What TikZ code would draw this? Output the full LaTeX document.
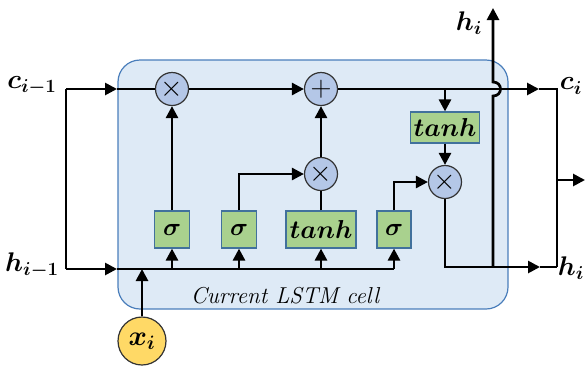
\documentclass[tikz,border=0pt]{standalone}
\usepackage{amsmath,bm}
\usetikzlibrary{arrows.meta}
\definecolor{cellfill}{HTML}{DEEAF6}
\definecolor{celldraw}{HTML}{4A7EBB}
\definecolor{opfill}{HTML}{B4C7E7}
\definecolor{gatefill}{HTML}{A9D18E}
\definecolor{gatedraw}{HTML}{41719C}
\definecolor{xfill}{HTML}{FFD966}
\newcommand\lstmsym[2]{\scalebox{#1}{\fontsize{20.74}{24}\selectfont$#2$}}
\tikzset{
  wire/.style={line width=2.7pt, black},
  arr/.style={wire, -{Triangle[length=12pt,width=12pt]}},
  opnode/.style={circle, draw=black!80, line width=1.2pt, fill=opfill, minimum size=33pt, inner sep=0pt},
  gate/.style={rectangle, draw=gatedraw, line width=1.2pt, fill=gatefill, minimum height=37pt, inner sep=0pt},
  lbl/.style={inner sep=0pt},
}
\begin{document}
\begin{tikzpicture}[x=1pt,y=-1pt]
\useasboundingbox (0,0) rectangle (586,365);
% cell
\draw[draw=celldraw, fill=cellfill, line width=1.2pt, rounded corners=22pt] (118,60) rectangle (508,309);
\node[inner sep=0pt, font=\fontsize{23}{24}\selectfont\itshape] (celllbl) at (285,296) {Current LSTM cell};
% operators
\node[opnode] (mul1) at (172,89) {\lstmsym{1.4}{\times}};
\node[opnode] (add) at (321,89) {\lstmsym{1.4}{+}};
\node[opnode] (mul2) at (321,174) {\lstmsym{1.4}{\times}};
\node[opnode] (mul3) at (445,182) {\lstmsym{1.4}{\times}};
% gates
\node[gate, minimum width=35pt] (sig1) at (172,229.5) {\lstmsym{1.2}{\bm{\sigma}}};
\node[gate, minimum width=35pt] (sig2) at (239,229.5) {\lstmsym{1.2}{\bm{\sigma}}};
\node[gate, minimum width=70pt] (tanh1) at (321,229.5) {\lstmsym{1.25}{\bm{tanh}}};
\node[gate, minimum width=34pt] (sig3) at (394,229.5) {\lstmsym{1.2}{\bm{\sigma}}};
\node[gate, minimum width=69pt, minimum height=31pt] (tanh2) at (445,127.5) {\lstmsym{1.25}{\bm{tanh}}};
% input
\node[circle, draw=black!80, line width=1.2pt, fill=xfill, minimum size=48pt, inner sep=0pt] (xi) at (142,341) {\lstmsym{1.35}{\bm{x_i}}};
% labels
\node[lbl] (cprev) at (32,86) {\lstmsym{1.3}{\bm{c_{i-1}}}};
\node[lbl] (hprev) at (32,265) {\lstmsym{1.3}{\bm{h_{i-1}}}};
\node[lbl] (cnext) at (571,86) {\lstmsym{1.3}{\bm{c_{i}}}};
\node[lbl] (hnext) at (571,268) {\lstmsym{1.3}{\bm{h_{i}}}};
\node[lbl] (htop) at (469,23) {\lstmsym{1.3}{\bm{h_{i}}}};
% coordinates
\coordinate (lc) at (66,89);
\coordinate (lh) at (66,269);
\coordinate (cm) at (117,89);
\coordinate (hm) at (117,269);
\coordinate (h1) at (172,269);
\coordinate (h2) at (239,269);
\coordinate (h3) at (321,269);
\coordinate (h4) at (394,269);
\coordinate (hx) at (142,269);
\coordinate (s2b) at (239,174);
\coordinate (s3b) at (394,182);
\coordinate (cbr) at (445,89);
\coordinate (carr) at (539,89);
\coordinate (rc) at (557,89);
\coordinate (rh) at (557,267);
\coordinate (rm) at (557,180);
\coordinate (rout) at (585,180);
\coordinate (m3d) at (445,267);
\coordinate (harr) at (540,267);
\coordinate (hv) at (493,267);
\coordinate (hop1) at (493,96);
\coordinate (hop2) at (493,82);
\coordinate (htip) at (493,8);
% wires
\draw[wire] (lh) -- (lc);
\draw[arr] (lc) -- (cm);
\draw[wire] (cm) -- (mul1);
\draw[arr] (lh) -- (hm);
\draw[wire] (hm) -- (h4);
\draw[arr] (h4) -- (sig3.south);
\draw[arr] (h1) -- (sig1.south);
\draw[arr] (h2) -- (sig2.south);
\draw[arr] (h3) -- (tanh1.south);
\draw[arr] (xi.north) -- (hx);
\draw[arr] (sig1) -- (mul1);
\draw[arr] (mul1) -- (add);
\draw[arr] (sig2.north) -- (s2b) -- (mul2.west);
\draw[wire] (tanh1.north) -- (mul2.south);
\draw[arr] (mul2) -- (add);
\draw[arr] (add) -- (carr);
\draw[wire] (carr) -- (rc) -- (rh);
\draw[arr] (cbr) -- (tanh2.north);
\draw[arr] (tanh2) -- (mul3);
\draw[arr] (sig3.north) -- (s3b) -- (mul3.west);
\draw[arr] (mul3.south) -- (m3d) -- (harr);
\draw[wire] (harr) -- (rh);
\draw[arr] (rm) -- (rout);
\draw[arr] (hv) -- (hop1) .. controls (503,96) and (503,82) .. (hop2) -- (htip);
\end{tikzpicture}
\end{document}
